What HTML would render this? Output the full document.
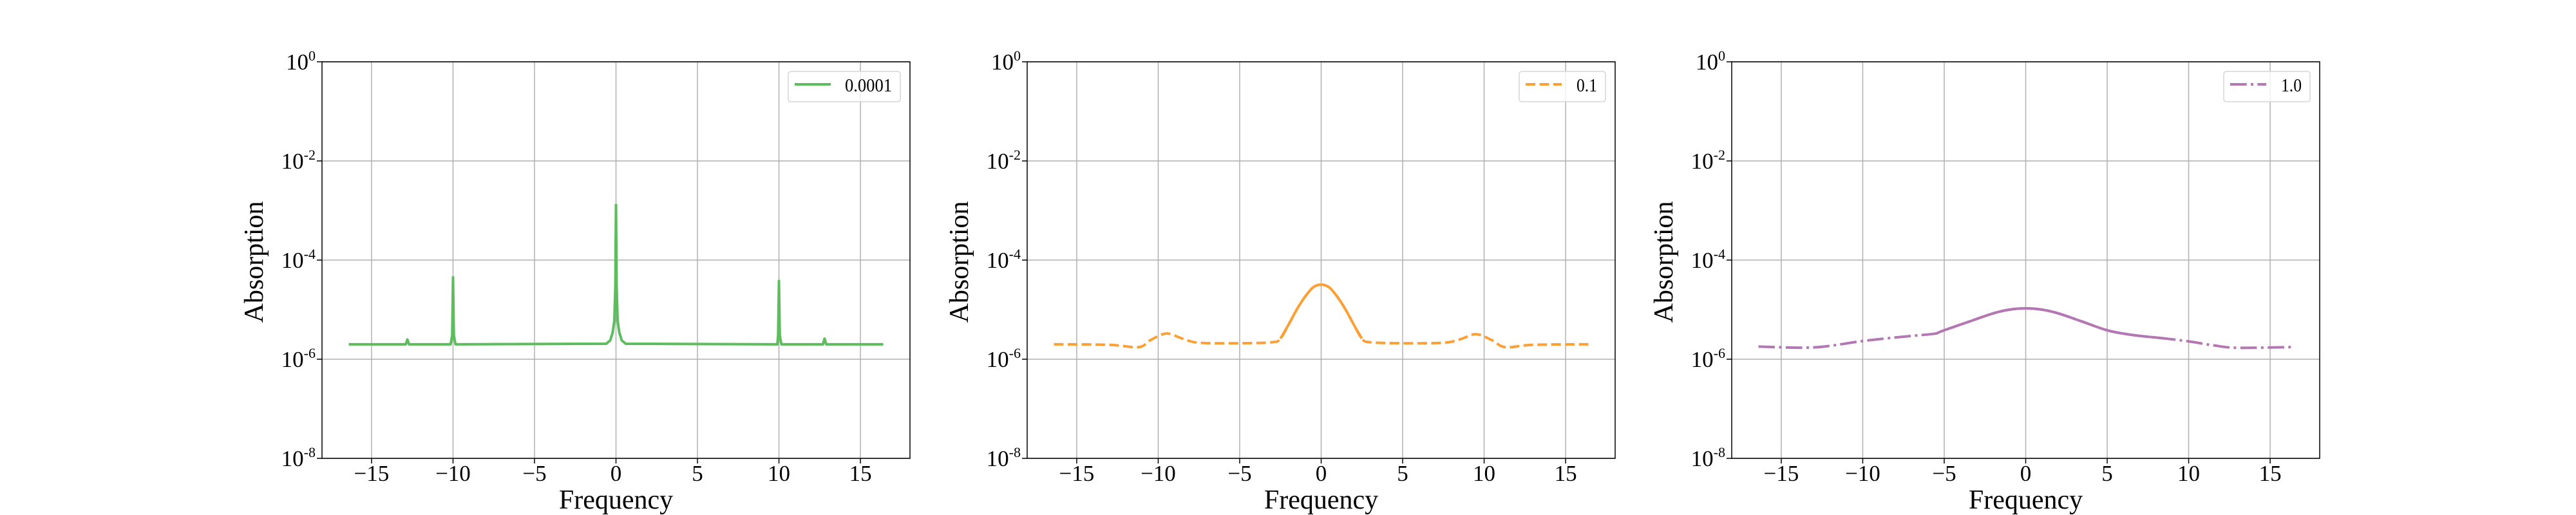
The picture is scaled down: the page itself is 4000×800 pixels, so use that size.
<!DOCTYPE html>
<html><head><meta charset="utf-8"><style>
html,body{margin:0;padding:0;background:#fff;}
svg{display:block;font-family:"Liberation Serif",serif;}
</style></head><body>
<svg id="fig" width="4000" height="800" viewBox="0 0 4000 800"></svg>
<script>
const freqs1=[-16.4,-12.9,-12.8,-12.7,-10.15,-10.05,-10,-9.95,-9.85,-0.6,-0.35,-0.2,-0.1,-0.04,0,0.04,0.1,0.2,0.35,0.6,9.9,9.95,10,10.05,10.15,12.7,12.8,12.9,16.4];
const absorp1=[2e-6,2e-6,2.5e-6,2e-6,2e-6,3e-6,4.5e-5,3e-6,2e-6,2.05e-6,2.4e-6,3.5e-6,6e-6,3e-5,1.3e-3,3e-5,6e-6,3.5e-6,2.4e-6,2.05e-6,2e-6,3e-6,3.8e-5,3e-6,2e-6,2e-6,2.6e-6,2e-6,2e-6];
const freqs2=[-16.4,-13,-11.2,-10.5,-9.5,-8.5,-7.5,-5,-3,-2.5,-2,-1.5,-1,-0.5,0,0.5,1,1.5,2,2.5,3,5,7.5,8.5,9.5,10.5,11.3,13,16.4];
const absorp2=[2e-6,1.95e-6,1.75e-6,2.4e-6,3.3e-6,2.6e-6,2.15e-6,2.1e-6,2.2e-6,2.6e-6,5e-6,1e-5,1.8e-5,2.8e-5,3.2e-5,2.8e-5,1.8e-5,1e-5,5e-6,2.6e-6,2.2e-6,2.1e-6,2.15e-6,2.5e-6,3.2e-6,2.4e-6,1.75e-6,1.95e-6,2e-6];
const freqs3=[-16.4,-13,-10,-7.5,-5.5,-5,-3.5,-2,-1,0,1,2,3.5,5,6.5,8.5,10,11.5,13,16.4];
const absorp3=[1.8e-6,1.73e-6,2.33e-6,2.85e-6,3.3e-6,3.84e-6,5.7e-6,8.4e-6,1.0e-5,1.06e-5,1.0e-5,8.4e-6,5.7e-6,3.84e-6,3.1e-6,2.63e-6,2.29e-6,1.91e-6,1.7e-6,1.76e-6];
const xTicks=[-15,-10,-5,0,5,10,15];
const xTickLabels=["\u221215","\u221210","\u22125","0","5","10","15"];
const yExps=[0,-2,-4,-6,-8];
const legendLabels=["0.0001","0.1","1.0"];

const NS="http://www.w3.org/2000/svg";
const svg=document.getElementById('fig');
function mk(tag,attrs,parent){const e=document.createElementNS(NS,tag);for(const k in attrs)e.setAttribute(k,attrs[k]);(parent||svg).appendChild(e);return e;}
function smoothPath(pts){
 let d='M'+pts[0][0].toFixed(2)+','+pts[0][1].toFixed(2);
 for(let i=0;i<pts.length-1;i++){
  const p0=pts[Math.max(0,i-1)],p1=pts[i],p2=pts[i+1],p3=pts[Math.min(pts.length-1,i+2)];
  const c1=[p1[0]+(p2[0]-p0[0])/6,p1[1]+(p2[1]-p0[1])/6];
  const c2=[p2[0]-(p3[0]-p1[0])/6,p2[1]-(p3[1]-p1[1])/6];
  d+=' C'+c1[0].toFixed(2)+','+c1[1].toFixed(2)+' '+c2[0].toFixed(2)+','+c2[1].toFixed(2)+' '+p2[0].toFixed(2)+','+p2[1].toFixed(2);
 }
 return d;
}
const TOP=96,BOT=712,W=913,XMIN=-18.04,XMAX=18.04;
const panels=[
 {left:500,xs:freqs1,ys:absorp1,color:"#5cbd5c",dash:"",legW:174,tl:73,smooth:false,solid:null,name:legendLabels[0]},
 {left:1595,xs:freqs2,ys:absorp2,color:"#fca036",dash:"15,6.5",legW:134,tl:32,smooth:true,solid:[-2.6,2.6],name:legendLabels[1]},
 {left:2689,xs:freqs3,ys:absorp3,color:"#b377b3",dash:"25.6,6.4,4,6.4",legW:134,tl:32,smooth:true,solid:[-5.5,9],name:legendLabels[2]}
];
panels.forEach((p,i)=>{
 const sx=x=>p.left+(x-XMIN)/(XMAX-XMIN)*W;
 const sy=v=>TOP+(0-Math.log10(v))/8*(BOT-TOP);
 const g=mk('g',{});
 
 
 xTicks.forEach((t,j)=>{
  const l=mk('line',{x1:sx(t),x2:sx(t),y1:TOP,y2:BOT,stroke:"#b0b0b0","stroke-width":1.5},g);
  
  
  const tk=mk('line',{x1:sx(t),x2:sx(t),y1:BOT,y2:BOT+8,stroke:"#000","stroke-width":1.5},g);
  
  
  const tx=mk('text',{x:sx(t),y:BOT+35,"text-anchor":"middle","font-size":35},g);
  tx.textContent=xTickLabels[j];
  
  
 });
 yExps.forEach(e=>{
  const y=sy(Math.pow(10,e));
  const l=mk('line',{x1:p.left,x2:p.left+W,y1:y,y2:y,stroke:"#b0b0b0","stroke-width":1.5},g);
  
  
  const tk=mk('line',{x1:p.left-8,x2:p.left,y1:y,y2:y,stroke:"#000","stroke-width":1.5},g);
  
  
  const tx=mk('text',{x:p.left-10,y:y+12,"text-anchor":"end","font-size":35},g);
  
  
  const a=mk('tspan',{},tx);a.textContent="10";
  const b=mk('tspan',{dy:-14,"font-size":22},tx);b.textContent=String(e);
 });
 const pts=p.xs.map((x,k)=>[sx(x),sy(p.ys[k])]);
 const d=p.smooth?smoothPath(pts):pts.map((q,k)=>(k?'L':'M')+q[0].toFixed(2)+','+q[1].toFixed(2)).join(' ');
 const path=mk('path',{d:d,fill:"none",stroke:p.color,"stroke-width":4,"stroke-linejoin":"round"},g);
 if(p.dash)path.setAttribute('stroke-dasharray',p.dash);
 
 
 if(p.solid){
  const sub=pts.filter((q,k)=>p.xs[k]>=p.solid[0]&&p.xs[k]<=p.solid[1]);
  const sp=mk('path',{d:smoothPath(sub),fill:"none",stroke:p.color,"stroke-width":4,"stroke-linejoin":"round"},g);
  
  
 }
 const fr=mk('rect',{x:p.left,y:TOP,width:W,height:BOT-TOP,fill:"none",stroke:"#000","stroke-width":1.5},g);
 
 
 const xl=mk('text',{x:p.left+W/2,y:790,"text-anchor":"middle","font-size":42},g);
 xl.textContent="Frequency";
 
 
 const yl=mk('text',{x:0,y:0,"text-anchor":"middle","font-size":42,transform:`translate(${p.left-92},407) rotate(-90)`},g);
 yl.textContent="Absorption";
 
 
 const lr=p.left+W-15, ll=lr-p.legW;
 const lg=mk('g',{},g);
 
 
 mk('rect',{x:ll,y:111,width:p.legW,height:47,rx:4,fill:"#fff","fill-opacity":0.8,stroke:"#d6d6d6","stroke-width":1.5},lg);
 const ls=mk('line',{x1:ll+10,x2:ll+66,y1:131,y2:131,stroke:p.color,"stroke-width":4},lg);
 if(p.dash)ls.setAttribute('stroke-dasharray',p.dash);
 
 
 const lt=mk('text',{x:lr-13,y:142,"text-anchor":"end","font-size":29,textLength:p.tl,lengthAdjust:"spacingAndGlyphs"},lg);
 lt.textContent=p.name;
 
 
});
</script>
</body></html>
